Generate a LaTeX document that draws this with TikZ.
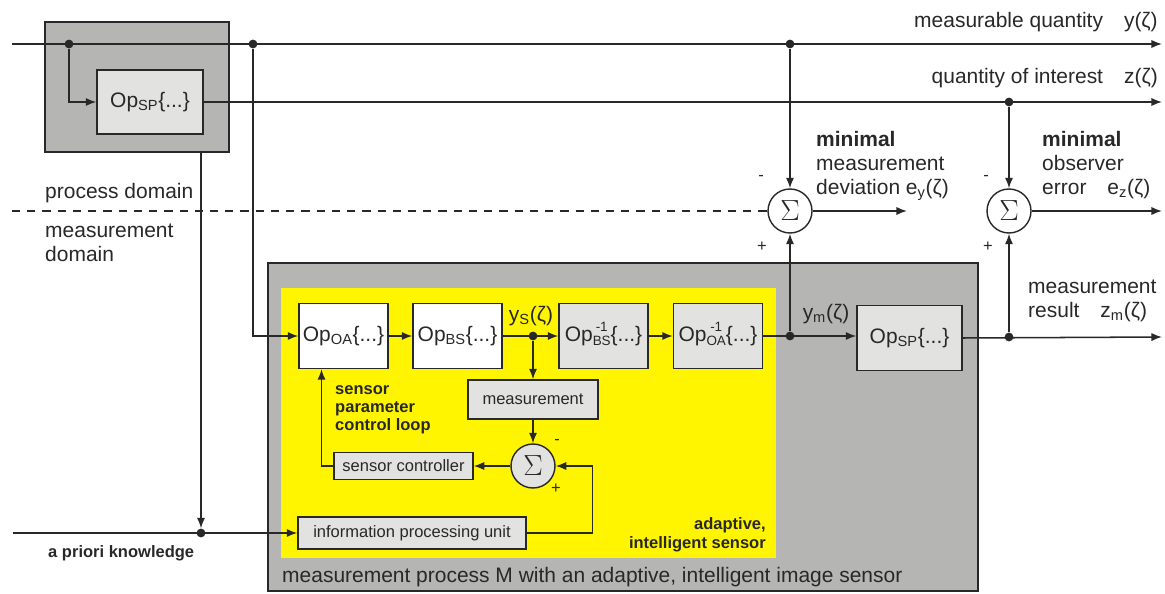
\documentclass[tikz,border=0pt]{standalone}
\usepackage{fontspec}
\setmainfont{Liberation Sans}
\usetikzlibrary{arrows.meta,positioning,shapes}
\definecolor{housing}{RGB}{181,181,179}
\definecolor{opgray}{RGB}{226,226,224}
\definecolor{sensoryellow}{RGB}{255,245,0}
\definecolor{ink}{RGB}{40,40,40}
\newcommand{\bigtxt}{\fontsize{17.9}{20.5}\selectfont}
\newcommand{\smalltxt}{\fontsize{14.1}{15.6}\selectfont}
\newcommand{\sumsym}{\fontsize{24}{24}\selectfont$\Sigma$}
% inverse operator: -1 stacked over the index
\newcommand{\opinv}[1]{Op\raisebox{1.5pt}{\fontsize{11.5}{12}\selectfont\begin{tabular}{@{}c@{}}-1\\#1\end{tabular}}\{...\}}
\tikzset{
  sig/.style={draw=ink,line width=1.3pt,-{Latex[length=9pt,width=7pt]}},
  wire/.style={draw=ink,line width=1.3pt},
  opbox/.style={draw=ink,line width=1.2pt,fill=opgray,minimum width=2.67cm,minimum height=1.95cm,inner sep=0pt,font=\bigtxt,text=ink},
  whitebox/.style={opbox,fill=white},
  unitbox/.style={draw=ink,line width=1.2pt,fill=opgray,inner sep=0pt,font=\smalltxt,text=ink},
  sumnode/.style={circle,draw=ink,line width=1.2pt,fill=white,minimum size=1.32cm,inner sep=0pt,text=ink},
  lbl/.style={font=\bigtxt,text=ink,inner sep=0pt},
  boldlbl/.style={font=\smalltxt\bfseries,text=ink,inner sep=0pt},
  sgn/.style={font=\smalltxt,text=ink,inner sep=0pt},
  dot/.style={circle,fill=ink,inner sep=0pt,minimum size=7.5pt}
}
\begin{document}
\begin{tikzpicture}[x=0.03cm,y=-0.03cm]
\useasboundingbox (0,0) rectangle (1165,594);
%process box and housing of the sensor
\node[draw=ink,line width=1.2pt,fill=housing,minimum width=5.52cm,minimum height=3.9cm,inner sep=0pt] (procbox) at (137,87) {};
\node[draw=ink,line width=1.2pt,fill=housing,minimum width=21.3cm,minimum height=9.84cm,inner sep=0pt] (house) at (623,427) {};
\node[fill=sensoryellow,minimum width=14.85cm,minimum height=8.1cm,inner sep=0pt] (sensor) at (528.5,423) {};
%operator boxes
\node[opbox,minimum width=3.18cm,minimum height=1.92cm] (spin) at (150,102) {Op\textsubscript{SP}\{...\}};
\node[whitebox] (opoa) at (343.5,336) {Op\textsubscript{OA}\{...\}};
\node[whitebox] (opbs) at (457.5,336) {Op\textsubscript{BS}\{...\}};
\node[opbox] (opbsinv) at (603.5,336) {\opinv{BS}};
\node[opbox] (opoainv) at (718,336) {\opinv{OA}};
\node[opbox,minimum width=3.15cm] (spout) at (909.5,338) {Op\textsubscript{SP}\{...\}};
\node[unitbox,minimum width=3.9cm,minimum height=1.17cm] (meas) at (533,399.5) {measurement};
\node[unitbox,minimum width=4.17cm,minimum height=0.81cm] (sctrl) at (403.5,466) {sensor controller};
\node[unitbox,minimum width=6.84cm,minimum height=0.96cm] (ipu) at (412,533) {information processing unit};
%summing points
\node[sumnode] (sum1) at (790,211) {\sumsym};
\node[sumnode] (sum2) at (1009,211) {\sumsym};
\node[sumnode,fill=opgray] (sum3) at (533,466) {\sumsym};
%branch points and free ends
\node[dot] (d1) at (69,44) {}; \node[dot] (d2) at (253,44) {}; \node[dot] (d3) at (790,44) {};
\node[dot] (d4) at (1009,102) {};
\node[dot] (dys) at (533,336) {}; \node[dot] (dym) at (790,336) {}; \node[dot] (dzm) at (1009,337) {};
\node[dot] (dap) at (201,533) {};
\coordinate (yin) at (12,44); \coordinate (yout) at (1162,44);
\coordinate (zout) at (1162,102); \coordinate (zmout) at (1162,337);
\coordinate (dashin) at (12,211); \coordinate (eyout) at (907,211); \coordinate (ezout) at (1162,211);
\coordinate (apin) at (13,533);
%process domain
\draw[sig] (yin) -- (yout);
\draw[sig] (d1) |- (spin.west);
\draw[sig] (spin.east) -- (zout);
\draw[wire,dash pattern=on 7pt off 6pt] (dashin) -- (sum1.west);
\draw[sig] (d3) -- (sum1.north); \draw[sig] (sum1.east) -- (eyout);
\draw[sig] (d4) -- (sum2.north); \draw[sig] (sum2.east) -- (ezout);
%measurement chain
\draw[sig] (d2) |- (opoa.west);
\draw[sig] (opoa) -- (opbs);
\draw[sig] (opbs) -- (opbsinv);
\draw[sig] (opbsinv) -- (opoainv);
\draw[sig] (opoainv.east) -- (spout.west |- opoainv.east);
\draw[sig] (dym) -- (sum1.south);
\draw[sig] (spout.east) -- (zmout);
\draw[sig] (dzm) -- (sum2.south);
%sensor parameter loop
\draw[sig] (dys) -- (meas.north);
\draw[sig] (meas) -- (sum3);
\draw[sig] (sum3) -- (sctrl);
\draw[sig] (sctrl.west) -| ([xshift=-0.66cm]opoa.south);
\draw[sig] (ipu.east) -- ++(66,0) |- (sum3.east);
%a priori knowledge
\draw[sig] (procbox.south -| dap) -- (dap);
\draw[sig] (apin) -- (ipu.west);
%signs
\node[sgn] (m1) at (761,178) {-}; \node[sgn] (p1) at (762,247) {+};
\node[sgn] (m2) at (986,178) {-}; \node[sgn] (p2) at (988,247) {+};
\node[sgn] (m3) at (557,442) {-}; \node[sgn] (p3) at (556,489) {+};
%labels
\node[lbl,anchor=east] (ylbl) at (1158,22) {measurable quantity\quad y(ζ)};
\node[lbl,anchor=east] (zlbl) at (1158,78) {quantity of interest\quad z(ζ)};
\node[lbl,anchor=north west,align=left] (eylbl) at (816,131) {\textbf{minimal}\\measurement\\deviation e\textsubscript{y}(ζ)};
\node[lbl,anchor=north west,align=left] (ezlbl) at (1042,131) {\textbf{minimal}\\observer\\error\quad e\textsubscript{z}(ζ)};
\node[lbl,anchor=west] (pdlbl) at (45,193) {process domain};
\node[lbl,anchor=north west,align=left] (mdlbl) at (45,224) {measurement\\domain};
\node[lbl] (yslbl) at (531,316) {y\textsubscript{S}(ζ)};
\node[lbl] (ymlbl) at (826,314) {y\textsubscript{m}(ζ)};
\node[lbl,anchor=south west,align=left] (zmlbl) at (1028,322) {measurement\\result\quad z\textsubscript{m}(ζ)};
\node[boldlbl,anchor=north west,align=left] (looplbl) at (335,385) {sensor\\parameter\\control loop};
\node[boldlbl,anchor=south east,align=right] (adaplbl) at (766,552) {adaptive,\\intelligent sensor};
\node[boldlbl,anchor=west] (aplbl) at (48,553) {a priori knowledge};
\node[lbl,anchor=west] (mplbl) at (282,577) {measurement process M with an adaptive, intelligent image sensor};
\end{tikzpicture}
\end{document}
